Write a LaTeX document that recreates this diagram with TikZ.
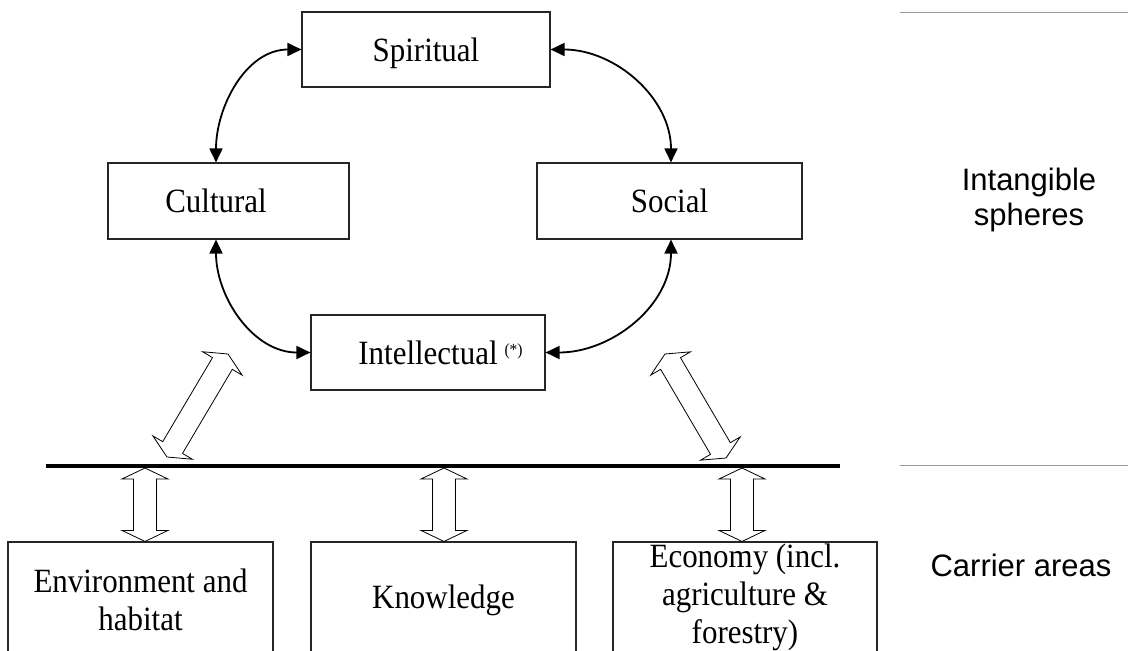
\documentclass[tikz,border=0pt]{standalone}
\usepackage{fontspec}
\setmainfont{Liberation Serif}
\newfontfamily\sidefont{Liberation Sans}
\newfontfamily\topfont[FakeStretch=0.91]{Liberation Serif}
\usetikzlibrary{arrows.meta,calc}
\newcommand\dblblock[2]{%
  \path[barrow] (#1)
   -- ($(#1)!11pt!(#2)!23pt!90:(#2)$)
   -- ($(#1)!11pt!(#2)!11.5pt!90:(#2)$)
   -- ($(#2)!11pt!(#1)!11.5pt!-90:(#1)$)
   -- ($(#2)!11pt!(#1)!23pt!-90:(#1)$)
   -- (#2)
   -- ($(#2)!11pt!(#1)!23pt!90:(#1)$)
   -- ($(#2)!11pt!(#1)!11.5pt!90:(#1)$)
   -- ($(#1)!11pt!(#2)!11.5pt!-90:(#2)$)
   -- ($(#1)!11pt!(#2)!23pt!-90:(#2)$)
   -- cycle;}
\begin{document}
\begin{tikzpicture}[x=1pt,y=1pt,
  box/.style={draw=black!85, line width=1.1pt, rectangle, inner sep=0pt, align=center},
  topbox/.style={box, text depth=0pt, font=\topfont\fontsize{34}{38.5}\selectfont},
  botbox/.style={box, font=\topfont\fontsize{34}{38}\selectfont},
  link/.style={line width=1.8pt, {Triangle[length=14pt,width=13pt]}-{Triangle[length=14pt,width=13pt]}},
  side/.style={font=\sidefont\fontsize{31}{35}\selectfont, align=center},
  barrow/.style={draw=black, fill=white, line width=0.8pt, line join=miter},
  sideline/.style={draw=black!40, line width=1pt},
  bar/.style={line width=3.6pt}]
\useasboundingbox (0,0) rectangle (1128,-651);
\clip (0,0) rectangle (1128,-651);

% top boxes
\node[topbox, minimum width=248pt, minimum height=75pt] (spi) at (426,-49.5) {Spiritual};
\node[topbox, minimum width=241pt, minimum height=76pt] (cul) at (228.5,-201) {\hspace*{-25pt}Cultural};
\node[topbox, minimum width=265pt, minimum height=76pt] (soc) at (669.5,-201) {Social};
\node[topbox, minimum width=234pt, minimum height=75pt] (int) at (428,-352.5)
  {Intellectual\rlap{\hspace{7pt}\raisebox{9pt}{\fontsize{17}{17}\selectfont(*)}}};

% curved links
\draw[link] (spi.west) to[out=180,in=90] ([xshift=-12.5pt]cul.north);
\draw[link] (spi.east) to[out=0,in=90] ([xshift=1.5pt]soc.north);
\draw[link] ([xshift=-12.5pt]cul.south) to[out=-90,in=180] (int.west);
\draw[link] ([xshift=1.5pt]soc.south) to[out=-90,in=0] (int.east);

% bar
\coordinate (barL) at (46,-466);
\coordinate (barR) at (840,-466);
\draw[bar] (barL) -- (barR);

% bottom boxes
\node[botbox, minimum width=265pt, minimum height=116pt] (env) at (140.5,-600) {Environment and\\habitat};
\node[botbox, minimum width=265pt, minimum height=116pt] (kno) at (443.5,-600) {Knowledge};
\node[botbox, minimum width=264pt, minimum height=110pt] (eco) at (745,-597) {Economy (incl.\\agriculture \&\\forestry)};

% block arrows bar <-> bottom boxes
\coordinate (b1) at (145,-468);
\coordinate (b2) at (444,-468);
\coordinate (b3) at (742,-468);
\coordinate (e1) at (b1 |- env.north);
\coordinate (e2) at (b2 |- kno.north);
\coordinate (e3) at (b3 |- eco.north);
\dblblock{b1}{e1}
\dblblock{b2}{e2}
\dblblock{b3}{e3}

% diagonal block arrows bar <-> intangible spheres
\coordinate (dl1) at (167,-457);
\coordinate (dl2) at (228,-354);
\coordinate (dr1) at (665,-354);
\coordinate (dr2) at (726,-458);
\dblblock{dl1}{dl2}
\dblblock{dr1}{dr2}

% side labels
\coordinate (g1) at (900,-12);
\coordinate (g2) at (1128,-12);
\coordinate (g3) at (900,-465);
\coordinate (g4) at (1128,-465);
\draw[sideline] (g1) -- (g2);
\draw[sideline] (g3) -- (g4);
\node[side] (ints) at (1029,-200) {Intangible\\spheres};
\node[side] (carr) at (1021,-565) {Carrier areas};
\end{tikzpicture}
\end{document}
